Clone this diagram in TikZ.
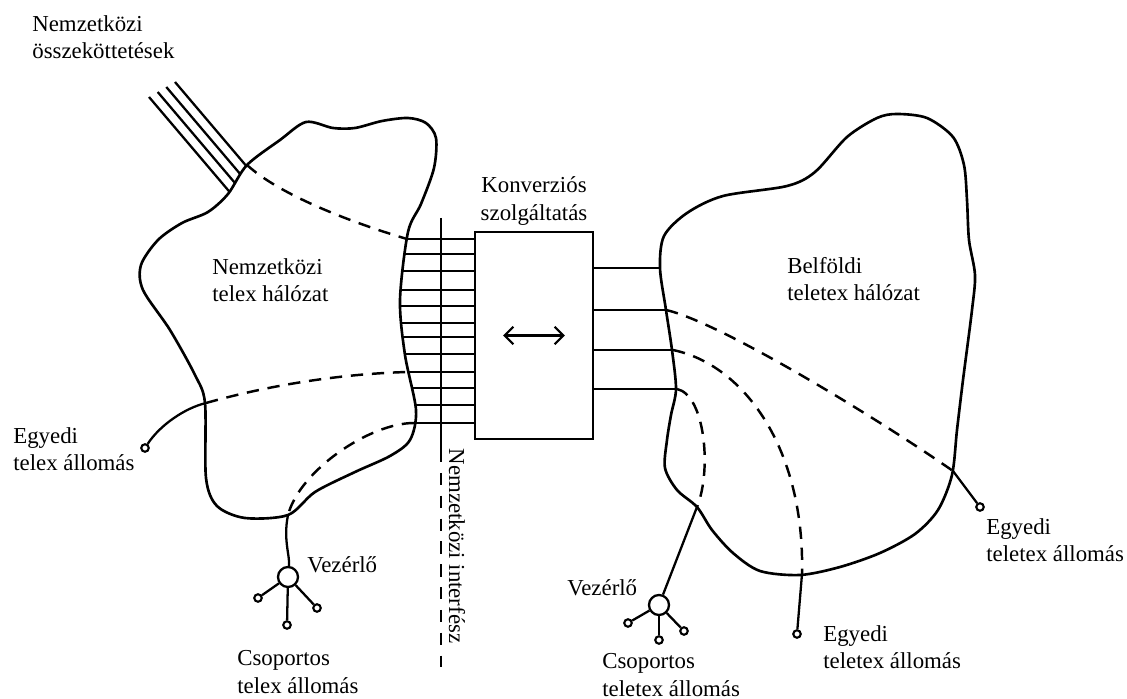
\documentclass[tikz,border=0pt]{standalone}
\usepackage{fontspec}
\setmainfont{Liberation Serif}
\usetikzlibrary{arrows.meta, positioning, calc}

\begin{document}
\begin{tikzpicture}[x=0.02cm, y=-0.02cm,
  every node/.style={font=\fontsize{13}{15.5}\selectfont},
  blob/.style={line width=1.5pt, fill=white},
  wire/.style={line width=1.3pt},
  dashwire/.style={line width=1.4pt, dash pattern=on 7pt off 5pt},
  ifdash/.style={line width=1.4pt, dash pattern=on 7pt off 6pt},
  txt/.style={align=left, anchor=west, inner sep=0pt},
  station/.style={circle, draw, line width=1.2pt, inner sep=0pt, minimum size=0.15cm},
  ctrl/.style={circle, draw, line width=1.3pt, inner sep=0pt, minimum size=0.4cm},
  convbox/.style={draw, line width=1.4pt, minimum width=2.36cm, minimum height=4.14cm},
  dblarrow/.style={line width=1.3pt, {Straight Barb[length=5pt,width=10pt]}-{Straight Barb[length=5pt,width=10pt]}}]
\useasboundingbox (0,0) rectangle (1127,699);

% ============= MIDDLE: conversion service and interface =============
\node[convbox] (conv) at (534,335.5) {};
\node[txt, align=center, anchor=center] (convlbl) at (534,201) {Konverziós\\szolgáltatás};
\draw[dblarrow] ([xshift=-0.62cm]conv.center) -- ([xshift=0.62cm]conv.center);

% telex lines into the converter (stubs are hidden by the blob fill)
\foreach \y [count=\i] in {239,254,271,290,306,323,337,354,372,388,405,423} {
  \coordinate (l\i) at (390,\y);
  \draw[wire] (l\i) -- (l\i -| conv.west);
}
% teletex lines out of the converter
\foreach \y [count=\i] in {268,310,350,389} {
  \coordinate (r\i) at (690,\y);
  \draw[wire] (r\i -| conv.east) -- (r\i);
}

% interface line: solid across the lines, dashed below
\coordinate (ifTop) at (441,218);
\coordinate (ifMid) at (441,450);
\coordinate (ifBot) at (441,667);
\draw[wire] (ifTop) -- (ifMid);
\draw[ifdash] (ifMid) -- (ifBot);

% international trunk lines
\foreach \dx/\dy in {0/0,8.7/-5,17.3/-10,26/-15}
  \draw[wire] (149+\dx,97+\dy) -- ++(90,106);

% ============= LEFT: international telex network =============
\draw[blob] plot[smooth cycle, tension=0.5] coordinates {
  (247,165) (280,140) (306,122) (333,128) (355,128) (382,121) (408,118)
  (426,123) (436,138) (434,168) (421,204) (408,232) (400,300) (405,355)
  (416,410) (410,440) (390,456) (355,472) (315,492) (288,515) (245,518)
  (217,506) (206,478) (205,403) (195,375) (170,330) (143,290) (141,265)
  (158,240) (182,223) (208,212) (228,194)};

\coordinate (tkEnd) at (247,165);
\coordinate (hA) at (407,239);
\draw[dashwire] (tkEnd) .. controls (280,195) and (350,222) .. (hA);

% single telex station
\coordinate (xL) at (206,403);
\coordinate (hB) at (407,372);
\node[station] (stL) at (145,448) {};
\draw[dashwire] (xL) .. controls (270,385) and (340,374) .. (hB);
\draw[wire] (xL) .. controls (185,408) and (160,425) .. (stL);

% group telex stations with controller
\coordinate (hC) at (414,423);
\coordinate (xC) at (288,515);
\node[ctrl] (ctlL) at (288,577) {};
\draw[dashwire] (hC) .. controls (370,423) and (300,470) .. (xC);
\draw[wire] (xC) .. controls (283,540) and (290,555) .. (ctlL);
\node[station] (gL1) at (258,598) {};
\node[station] (gL2) at (287,625) {};
\node[station] (gL3) at (317,608) {};
\foreach \s in {gL1,gL2,gL3}
  \draw[wire] (ctlL) -- (\s);

% ============= RIGHT: domestic teletex network =============
\draw[blob] plot[smooth cycle, tension=0.5] coordinates {
  (660,268) (664,236) (687,213) (723,196) (787,186) (815,172) (847,137)
  (877,118) (897,114) (927,118) (953,137) (964,165) (967,200) (969,240)
  (975,275) (972,310) (963,380) (957,430) (952,475) (938,510) (915,534)
  (880,553) (840,567) (800,575) (760,571) (733,553) (712,530) (697,507)
  (677,490) (665,468) (667,440) (671,415) (676,389) (672,350) (666,310)};

\coordinate (hD) at (666,310);
\coordinate (hE) at (673,350);
\coordinate (hF) at (677,389);
\coordinate (xD) at (953,471);
\coordinate (xE) at (802,574);
\coordinate (xF) at (697,507);
\draw[dashwire] (hD) .. controls (720,322) and (880,420) .. (xD);
\draw[dashwire] (hE) .. controls (745,365) and (805,450) .. (xE);
\draw[dashwire] (hF) .. controls (705,395) and (712,470) .. (xF);

\node[station] (stR) at (980,507) {};
\node[station] (stB) at (797,634) {};
\node[ctrl] (ctlR) at (659,605) {};
\draw[wire] (xD) -- (stR);
\draw[wire] (xE) -- (stB);
\draw[wire] (xF) -- (ctlR);
\node[station] (gR1) at (628,623) {};
\node[station] (gR2) at (659,640) {};
\node[station] (gR3) at (684,631) {};
\foreach \s in {gR1,gR2,gR3}
  \draw[wire] (ctlR) -- (\s);

% ============= labels =============
\node[txt] (intl) at (32,37) {Nemzetközi\\összeköttetések};
\node[txt] (telexnet) at (212,280) {Nemzetközi\\telex hálózat};
\node[txt] (teletexnet) at (787,279) {Belföldi\\teletex hálózat};
\node[txt] (egyL) at (13,449) {Egyedi\\telex állomás};
\node[txt] (vezL) at (307,565) {Vezérlő};
\node[txt] (csopL) at (237,672) {Csoportos\\telex állomás};
\node[txt, anchor=center, rotate=-90] (iface) at (457,546) {Nemzetközi interfész};
\node[txt] (vezR) at (567,588) {Vezérlő};
\node[txt] (csopR) at (602,675) {Csoportos\\teletex állomás};
\node[txt] (egyB) at (823,647) {Egyedi\\teletex állomás};
\node[txt] (egyR) at (986,540) {Egyedi\\teletex állomás};
\end{tikzpicture}
\end{document}
